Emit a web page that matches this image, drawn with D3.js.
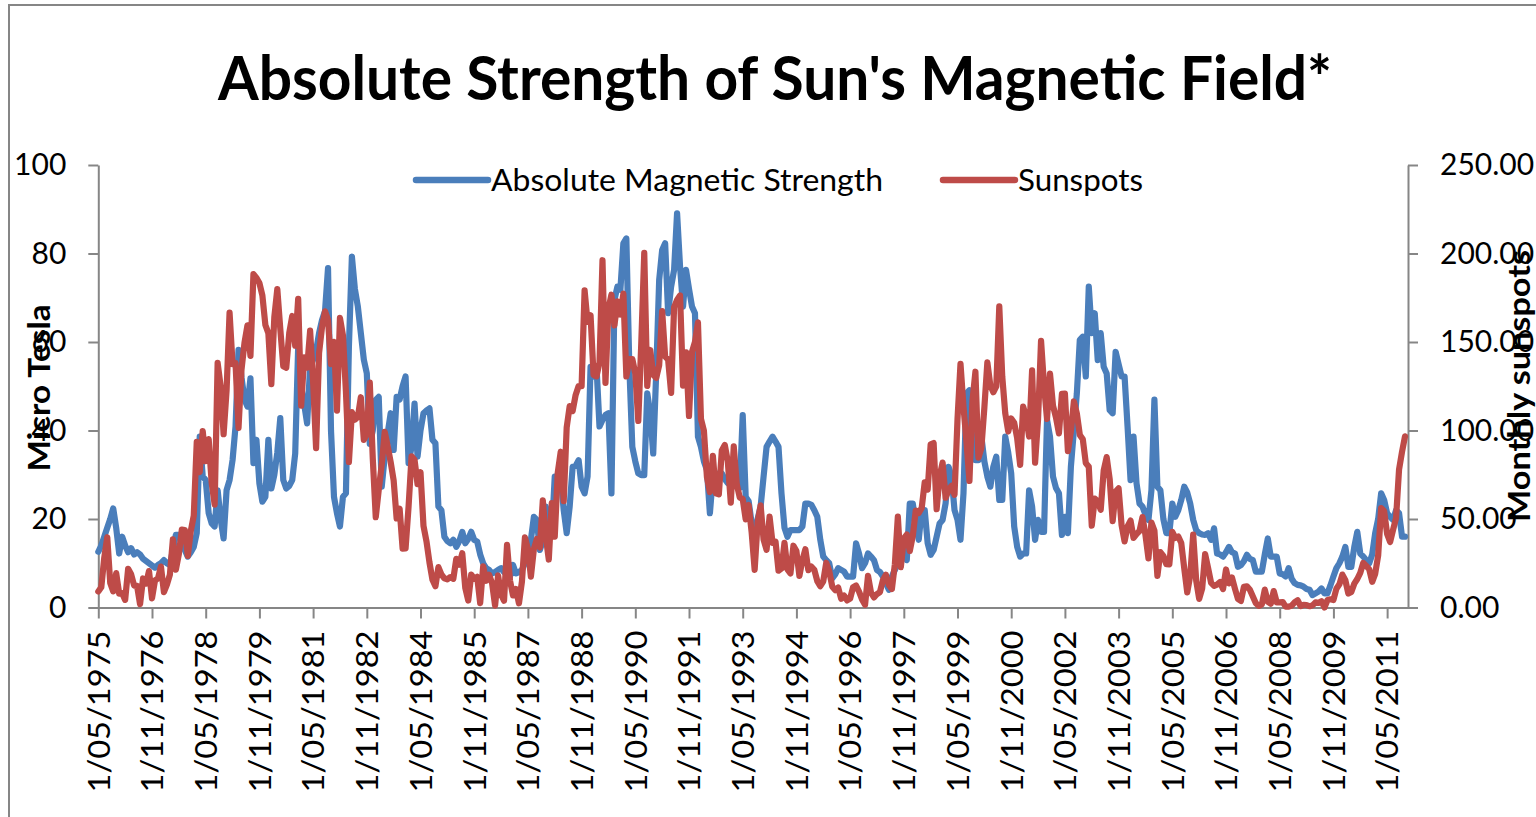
<!DOCTYPE html>
<html><head><meta charset="utf-8">
<script src="https://cdn.jsdelivr.net/npm/d3@7"></script>
<style>
html,body{margin:0;padding:0;background:#fff;overflow:hidden;}
svg{display:block;font-family:Lato,"Open Sans",sans-serif;}
</style></head><body>
<svg id="chart" width="1536" height="817"></svg>
<script>
// ---- data ----
const chartTitle = "Absolute Strength of Sun's Magnetic Field*";
const seriesNames = ["Absolute Magnetic Strength", "Sunspots"];
const leftAxisTitle = "Micro Tesla";
const rightAxisTitle = "Monthly sunspots";
const xTickLabels = ["1/05/1975","1/11/1976","1/05/1978","1/11/1979","1/05/1981","1/11/1982","1/05/1984","1/11/1985","1/05/1987","1/11/1988","1/05/1990","1/11/1991","1/05/1993","1/11/1994","1/05/1996","1/11/1997","1/05/1999","1/11/2000","1/05/2002","1/11/2003","1/05/2005","1/11/2006","1/05/2008","1/11/2009","1/05/2011"];
const leftTicks = [0, 20, 40, 60, 80, 100];
const rightTicks = [0, 50, 100, 150, 200, 250];

// monthly, May 1975 .. Nov 2011
const magneticStrength = [
12.6,14,16,18,20,22.4,18,12.2,16,14,
12.5,13.4,12,12.5,12,11,10.5,10,9.5,9,
9.6,10,10.7,10,9.6,13,16.4,16.4,15,13,
11.5,12.5,13.7,16.8,38.6,29.6,28.8,21.3,19,18.3,
26.5,20,15.6,26.5,28.8,33.3,40.9,58.2,52,47,
45.4,51.8,32.6,37.9,28,23.9,25,37.9,26.9,30,
35,42.8,28.8,26.9,27.5,28.8,34.8,59,50,46,
41.6,54.4,56,58,62,65,67,76.7,40,25,
21.3,18.3,25,25.8,59,79.3,72,68,62,56,
52.9,37,40,46.9,47.6,27.3,34,39.4,43.9,35.6,
47.6,47,50,52.2,32.6,36.3,46.1,34.1,40,43.9,
44.5,45,37.9,37.1,22.8,22,16,15,14.5,15.3,
13.7,15,17.1,14.5,15.5,17.1,15.3,14.9,12,10,
8.9,8.5,7.7,8,8.5,8.9,8,7.7,7,9.6,
7.7,8,8.5,10,13,15.3,20.5,19.8,13,15,
22.8,18,16.8,29.6,28,29.6,22,16.8,22.8,31.8,
32,33.3,27.3,25.8,29.6,54.4,52.2,54.4,40.9,42.4,
43.5,43.9,25.8,69.5,72.5,71.8,82.3,83.4,54.4,36.3,
33,30.3,29.9,29.9,48.4,43.9,34.8,52.9,74,80.8,
82.3,66.5,72.5,76.3,89.1,77,68,76.3,72,68,
66.5,38.6,36.3,33,31.1,21.3,29.6,30.3,30,30.3,
29,28.1,29.6,29.6,29.6,27,43.5,25,24,19,
16.8,20,22.8,29.6,36.3,37.5,38.6,37.5,36.3,25.8,
18,16,17.5,17.5,17.5,17.5,18.3,23.5,23.5,23.2,
22,20.5,15.3,11.5,10.7,10,6.6,7.5,8.9,8.5,
8.1,7,7,7,14.5,12.2,8.9,10,12.2,11.5,
10.7,8.5,8,7,5.5,4,7,8.5,10,11.5,
13,10.7,23.5,23.5,19,15.3,22,22,14.5,11.9,
13,16,19,19.8,23.5,31.8,29.6,22,19.8,15.3,
25.8,48.4,49.1,37.1,33.3,33.3,38.6,33,29.6,27.3,
31.8,34.1,24.3,24.3,38.6,35,30.3,18.3,13.7,11.5,
12.2,12.2,26.5,22.8,15.3,19.8,17.1,17.1,42.4,38.6,
29.6,27,25.8,16.4,20.5,16.8,31.8,40,48.4,60.5,
61.2,52.2,72.5,62,66.5,55.9,62,54.4,52.9,44.6,
43.9,57.8,55,52.2,52.2,40.9,28.8,38.6,28.1,23.5,
22.8,21,19.8,26.5,47,27.3,26.5,20,16.8,16.8,
23.5,20.5,22,24.3,27.3,26,23.5,19.8,17.5,16.8,
16.5,16.4,16.8,15.3,17.9,12.2,12,11.5,12.5,13.7,
12.5,12.2,9.2,9.6,10.5,11.9,11,10.7,8.1,8.1,
8.1,12,15.6,11.5,11.5,11.5,7.7,7.5,7,8.9,
6.5,5.5,5.1,5,4.7,4.2,4,2.8,3.2,3.6,
4.3,3.2,3.2,5,7,8.9,10,11.5,13.7,9.2,
9.2,13.7,17.1,12.2,11.5,10.7,10,12,16.8,20,
25.8,24.3,21.3,20.5,19.8,22,21.3,16,16
];

const sunspots = [
9.0,11.4,28.2,39.7,13.9,9.1,19.4,7.8,
8.1,4.3,21.9,18.8,12.4,12.2,1.9,16.4,13.5,20.6,5.2,15.3,
16.4,23.1,8.7,12.9,18.6,38.5,21.4,30.1,44.0,43.8,29.1,43.2,
51.9,93.6,76.5,99.7,82.7,95.1,70.4,58.1,138.2,125.1,97.9,122.7,
166.6,137.5,138.0,101.5,134.4,149.5,159.4,142.2,188.4,186.2,183.3,176.3,
159.6,155.0,126.2,164.1,179.9,157.3,136.3,135.4,155.0,164.7,147.9,174.4,
114.0,141.3,135.5,156.4,127.5,90.0,143.8,158.7,167.3,162.4,137.5,150.1,
111.2,163.6,153.8,122.0,82.2,110.4,106.1,107.6,118.8,94.7,98.1,127.0,
84.3,51.0,66.5,80.7,99.2,91.1,82.2,71.8,50.3,55.8,33.3,33.4,
57.0,85.4,83.5,69.7,76.4,46.1,37.4,25.5,15.7,12.0,22.8,18.7,
16.5,15.9,17.2,16.2,27.5,24.2,30.7,11.1,3.9,18.6,16.2,17.3,
2.5,23.2,15.1,18.5,13.7,1.1,18.1,7.4,3.8,35.4,15.2,6.8,
10.4,2.4,14.7,39.6,33.0,17.4,33.0,38.7,33.9,60.6,39.9,27.1,
59.0,40.0,76.2,88.0,60.1,101.8,113.8,111.0,120.1,125.1,125.1,179.2,
161.3,165.1,131.4,130.6,138.5,196.2,126.9,168.9,176.7,159.4,173.0,165.5,
177.3,130.5,140.3,140.3,132.2,105.4,149.4,200.3,125.2,145.5,131.4,129.7,
136.9,167.5,141.9,140.0,121.3,169.7,173.7,176.3,125.3,144.1,108.2,144.4,
150.0,161.1,106.7,99.8,73.8,65.2,85.7,64.5,63.9,88.7,91.8,82.6,
59.3,91.0,69.8,62.2,61.3,49.8,57.9,42.4,21.3,48.1,57.7,38.3,
32.6,51.3,36.5,37.2,20.8,22.0,36.5,21.5,19.2,34.9,31.9,17.8,
26.7,32.9,21.1,23.1,21.3,14.9,12.0,14.8,25.3,20.5,11.9,9.8,
11.3,4.9,6.7,4.0,5.0,11.5,12.4,9.0,4.5,1.5,17.9,8.4,
5.7,7.6,8.7,15.5,18.5,12.7,10.4,24.4,51.3,22.8,39.0,41.2,
31.9,40.3,54.8,53.4,56.3,70.7,66.6,92.2,92.9,55.5,74.0,81.9,
62.0,66.3,68.8,63.7,106.4,137.7,113.5,93.7,71.5,116.7,133.2,84.6,
90.1,112.9,138.5,125.5,121.6,124.9,170.1,130.5,109.7,99.4,106.8,104.4,
95.6,80.6,113.5,107.7,96.6,134.0,81.8,106.4,150.7,125.5,106.5,132.2,
114.1,107.4,98.4,120.7,120.8,88.3,99.6,116.4,109.6,97.5,95.0,81.6,
79.5,46.2,61.5,60.0,55.2,77.4,85.0,72.7,48.8,65.5,67.3,46.5,
37.3,45.8,49.1,39.3,41.5,43.2,51.1,40.9,27.7,48.0,43.5,17.9,
31.3,29.2,24.5,24.4,42.7,39.3,40.1,36.4,22.1,8.5,18.0,41.2,
15.3,4.9,10.6,30.2,22.3,13.9,12.2,12.9,14.4,10.4,21.5,13.6,
16.9,10.6,4.8,3.7,11.7,12.0,10.0,6.2,2.4,0.9,1.7,10.1,
3.3,2.1,9.3,2.9,2.9,3.1,0.5,0.5,1.1,2.9,4.1,0.8,
1.5,1.4,0.7,1.2,2.9,2.6,3.5,0.0,4.2,4.6,4.2,10.6,
13.1,18.6,15.4,7.9,8.8,13.5,16.1,19.6,25.2,23.5,21.6,14.5,
19.0,29.4,56.2,54.4,41.6,37.0,43.9,50.6,78.0,88.0,96.7
];

const categories = d3.timeMonth.range(new Date(1975, 4, 1), new Date(1975, 4 + magneticStrength.length, 1));
const tickEvery = 18;

// ---- chart ----
const svg = d3.select("#chart");
const axisColor = "#868686";
const blue = "#4A7EBB", red = "#BE4B48";

svg.append("rect").attr("x", 9).attr("y", 5).attr("width", 1600).attr("height", 900)
  .attr("fill", "#fff").attr("stroke", axisColor).attr("stroke-width", 2);

const x = d3.scaleLinear().domain([0, categories.length]).range([98.3, 1408]);
const yL = d3.scaleLinear().domain([0, 100]).range([607.5, 165]);
const yR = d3.scaleLinear().domain([0, 250]).range([607.5, 165]);

function styleAxis(g) {
  g.selectAll("path, line").attr("stroke", axisColor).attr("stroke-width", 2);
  g.selectAll("text").attr("fill", "#000").style("font-size", "30px").style("font-family", "Lato, 'Open Sans', sans-serif");
}

const gL = svg.append("g").attr("transform", "translate(98.3,0)")
  .call(d3.axisLeft(yL).tickValues(leftTicks).tickSize(10).tickPadding(22).tickSizeOuter(0));
styleAxis(gL);

const gR = svg.append("g").attr("transform", "translate(1408,0)")
  .call(d3.axisRight(yR).tickValues(rightTicks).tickFormat(d3.format(".2f")).tickSize(10).tickPadding(22).tickSizeOuter(0));
styleAxis(gR);

const xTickIdx = xTickLabels.map((_, i) => i * tickEvery);
const gB = svg.append("g").attr("transform", "translate(0,607.5)")
  .call(d3.axisBottom(x).tickValues(xTickIdx).tickFormat((d, i) => xTickLabels[i]).tickSize(11).tickSizeOuter(0));
styleAxis(gB);
gB.selectAll(".tick text")
  .attr("transform", "rotate(-90)")
  .attr("text-anchor", "end")
  .attr("x", -23).attr("y", 0).attr("dy", "0.36em")
  .attr("textLength", 162).attr("lengthAdjust", "spacingAndGlyphs");

// series
const lineL = d3.line().x((d, i) => x(i)).y(d => yL(d));
const lineR = d3.line().x((d, i) => x(i)).y(d => yR(d));

svg.append("path").datum(magneticStrength).attr("d", lineL)
  .attr("fill", "none").attr("stroke", blue).attr("stroke-width", 6.2)
  .attr("stroke-linejoin", "round").attr("stroke-linecap", "round");
svg.append("path").datum(sunspots).attr("d", lineR)
  .attr("fill", "none").attr("stroke", red).attr("stroke-width", 6.2)
  .attr("stroke-linejoin", "round").attr("stroke-linecap", "round");

// title
svg.append("text").attr("x", 775).attr("y", 100).attr("text-anchor", "middle")
  .style("font-size", "62px").style("font-weight", "bold").attr("fill", "#000")
  .attr("textLength", 1114).attr("lengthAdjust", "spacingAndGlyphs")
  .text(chartTitle);

// axis titles
svg.append("text").attr("transform", "translate(50,388) rotate(-90)").attr("text-anchor", "middle")
  .style("font-size", "30px").style("font-weight", "bold").attr("fill", "#000")
  .attr("textLength", 167).attr("lengthAdjust", "spacingAndGlyphs")
  .text(leftAxisTitle);
svg.append("text").attr("transform", "translate(1530,386) rotate(-90)").attr("text-anchor", "middle")
  .style("font-size", "30px").style("font-weight", "bold").attr("fill", "#000")
  .attr("textLength", 272).attr("lengthAdjust", "spacingAndGlyphs")
  .text(rightAxisTitle);

// legend
const legendItems = [
  {name: seriesNames[0], color: blue, x0: 416, x1: 488, tx: 491, len: 392},
  {name: seriesNames[1], color: red, x0: 943, x1: 1015, tx: 1018, len: 125}
];
const lg = svg.append("g");
legendItems.forEach(it => {
  lg.append("line").attr("x1", it.x0).attr("x2", it.x1).attr("y1", 180).attr("y2", 180)
    .attr("stroke", it.color).attr("stroke-width", 6.5).attr("stroke-linecap", "round");
  lg.append("text").attr("x", it.tx).attr("y", 180).attr("dy", "0.36em")
    .style("font-size", "30px").attr("fill", "#000")
    .attr("textLength", it.len).attr("lengthAdjust", "spacingAndGlyphs")
    .text(it.name);
});
</script>
</body></html>
